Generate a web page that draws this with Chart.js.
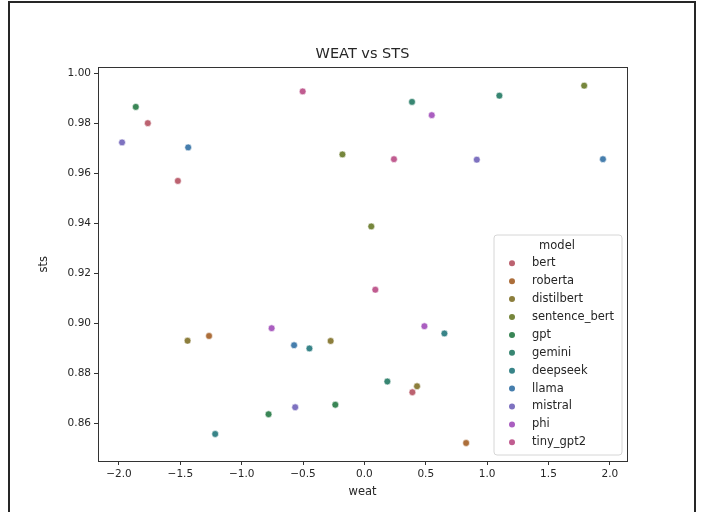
<!DOCTYPE html>
<html>
<head>
<meta charset="utf-8">
<script src="https://cdn.jsdelivr.net/npm/chart.js@4.4.1/dist/chart.umd.min.js"></script>
<style>
  html, body { margin: 0; padding: 0; background: #ffffff; }
  #frame { position: absolute; left: 8px; top: 1px; width: 688px; height: 620px; box-sizing: border-box;
           border: 2px solid #262626; border-bottom: none; }
  #wrap { position: absolute; left: 0; top: 0; width: 703px; height: 512px; }
</style>
</head>
<body>
<div id="frame"></div>
<div id="wrap"><canvas id="c" width="703" height="512"></canvas></div>
<script>
// ---- data ----
const models = ["bert", "roberta", "distilbert", "sentence_bert", "gpt", "gemini", "deepseek", "llama", "mistral", "phi", "tiny_gpt2"];
const colors = ["#bc6270", "#ac6e3a", "#8c7e3c", "#76863c", "#3a8656", "#388672", "#388488", "#467ead", "#7e72c0", "#aa5ec0", "#c05c90"];

const bertWeat = [-1.765, -1.520, 0.391];
const bertSts = [0.9801, 0.9570, 0.8725];
const robertaWeat = [-1.266, 0.829];
const robertaSts = [0.8950, 0.8522];
const distilbertWeat = [-1.441, -0.275, 0.429];
const distilbertSts = [0.8931, 0.8930, 0.8749];
const sentenceBertWeat = [1.791, 0.056, -0.179];
const sentenceBertSts = [0.9951, 0.9388, 0.9676];
const gptWeat = [-1.863, -0.781, -0.237];
const gptSts = [0.9866, 0.8637, 0.8675];
const geminiWeat = [0.388, 1.100, 0.187];
const geminiSts = [0.9886, 0.9911, 0.8768];
const deepseekWeat = [-0.448, 0.652, -1.216];
const deepseekSts = [0.8900, 0.8960, 0.8558];
const llamaWeat = [-1.436, 1.944, -0.573];
const llamaSts = [0.9704, 0.9657, 0.8913];
const mistralWeat = [-1.975, 0.916, -0.564];
const mistralSts = [0.9724, 0.9655, 0.8665];
const phiWeat = [0.549, 0.489, -0.756];
const phiSts = [0.9833, 0.8989, 0.8981];
const tinyGpt2Weat = [-0.503, 0.089, 0.241];
const tinyGpt2Sts = [0.9928, 0.9135, 0.9657];

const xTicks = [-2.0, -1.5, -1.0, -0.5, 0.0, 0.5, 1.0, 1.5, 2.0];
const yTicks = [0.86, 0.88, 0.90, 0.92, 0.94, 0.96, 0.98, 1.00];
const xLimits = [-2.171, 2.140];
const yLimits = [0.8450, 1.0024];

const weatSeries = [bertWeat, robertaWeat, distilbertWeat, sentenceBertWeat, gptWeat, geminiWeat, deepseekWeat, llamaWeat, mistralWeat, phiWeat, tinyGpt2Weat];
const stsSeries = [bertSts, robertaSts, distilbertSts, sentenceBertSts, gptSts, geminiSts, deepseekSts, llamaSts, mistralSts, phiSts, tinyGpt2Sts];

const datasets = models.map((m, i) => ({
  label: m,
  data: weatSeries[i].map((x, j) => ({ x: x, y: stsSeries[i][j] })),
  backgroundColor: colors[i],
  borderColor: "#ffffff",
  borderWidth: 0.6,
  pointRadius: 3.4,
  pointHoverRadius: 3.4
}));

const FONT = "'DejaVu Sans', sans-serif";
const TXT = "#262626";

const framePlugin = {
  id: "framePlugin",
  afterDatasetsDraw(chart) {
    const a = chart.chartArea, ctx = chart.ctx;
    ctx.save();
    ctx.strokeStyle = "#333333";
    ctx.lineWidth = 1;
    ctx.strokeRect(Math.round(a.left) + 0.5, Math.round(a.top) + 0.5, Math.round(a.right - a.left), Math.round(a.bottom - a.top));
    ctx.restore();
  }
};

const legendPlugin = {
  id: "boxLegend",
  afterDraw(chart) {
    const ctx = chart.ctx;
    const left = 494, top = 235, right = 622, bottom = 455;
    ctx.save();
    ctx.beginPath();
    const r = 3;
    ctx.moveTo(left + r, top);
    ctx.arcTo(right, top, right, bottom, r);
    ctx.arcTo(right, bottom, left, bottom, r);
    ctx.arcTo(left, bottom, left, top, r);
    ctx.arcTo(left, top, right, top, r);
    ctx.closePath();
    ctx.fillStyle = "rgba(255,255,255,0.8)";
    ctx.fill();
    ctx.strokeStyle = "#d6d6d6";
    ctx.lineWidth = 1;
    ctx.stroke();
    ctx.fillStyle = TXT;
    ctx.font = "11.5px " + FONT;
    ctx.textAlign = "center";
    ctx.textBaseline = "middle";
    ctx.fillText("model", 557, 246);
    ctx.textAlign = "left";
    chart.data.datasets.forEach((ds, i) => {
      const y = 263.3 + i * 17.9;
      ctx.beginPath();
      ctx.arc(512, y, 3, 0, Math.PI * 2);
      ctx.fillStyle = ds.backgroundColor;
      ctx.fill();
      ctx.fillStyle = TXT;
      ctx.fillText(ds.label, 532, y);
    });
    ctx.restore();
  }
};

new Chart(document.getElementById("c"), {
  type: "scatter",
  data: { datasets: datasets },
  options: {
    responsive: false,
    animation: false,
    events: [],
    layout: { padding: { left: 33, right: 76, top: 46, bottom: 9 } },
    plugins: {
      legend: { display: false },
      tooltip: { enabled: false },
      title: {
        display: true,
        fullSize: false,
        text: "WEAT vs STS",
        color: TXT,
        font: { family: FONT, size: 14.5, weight: "normal" },
        padding: { top: 0, bottom: 4 }
      }
    },
    scales: {
      x: {
        type: "linear",
        min: xLimits[0],
        max: xLimits[1],
        afterBuildTicks(scale) { scale.ticks = xTicks.map(v => ({ value: v })); },
        afterFit(scale) { scale.height = 42; },
        grid: { drawOnChartArea: false, drawTicks: true, tickLength: 4, color: "#333333", tickColor: "#333333" },
        border: { display: true, color: "#333333", width: 1 },
        ticks: {
          color: TXT, padding: 3, maxRotation: 0, autoSkip: false,
          font: { family: FONT, size: 10.5 },
          callback: v => v.toFixed(1).replace("-", "\u2212")
        },
        title: { display: true, text: "weat", color: TXT, font: { family: FONT, size: 11.5 }, padding: { top: 0, bottom: 4 } }
      },
      y: {
        type: "linear",
        min: yLimits[0],
        max: yLimits[1],
        afterBuildTicks(scale) { scale.ticks = yTicks.map(v => ({ value: v })); },
        afterFit(scale) { scale.width = 98 - 33; },
        grid: { drawOnChartArea: false, drawTicks: true, tickLength: 4, color: "#333333", tickColor: "#333333" },
        border: { display: true, color: "#333333", width: 1 },
        ticks: {
          color: TXT, padding: 3, autoSkip: false,
          font: { family: FONT, size: 10.5 },
          callback: v => v.toFixed(2)
        },
        title: { display: true, text: "sts", color: TXT, font: { family: FONT, size: 11.5 }, padding: { top: 4, bottom: 0 } }
      }
    }
  },
  plugins: [framePlugin, legendPlugin]
});
</script>
</body>
</html>
